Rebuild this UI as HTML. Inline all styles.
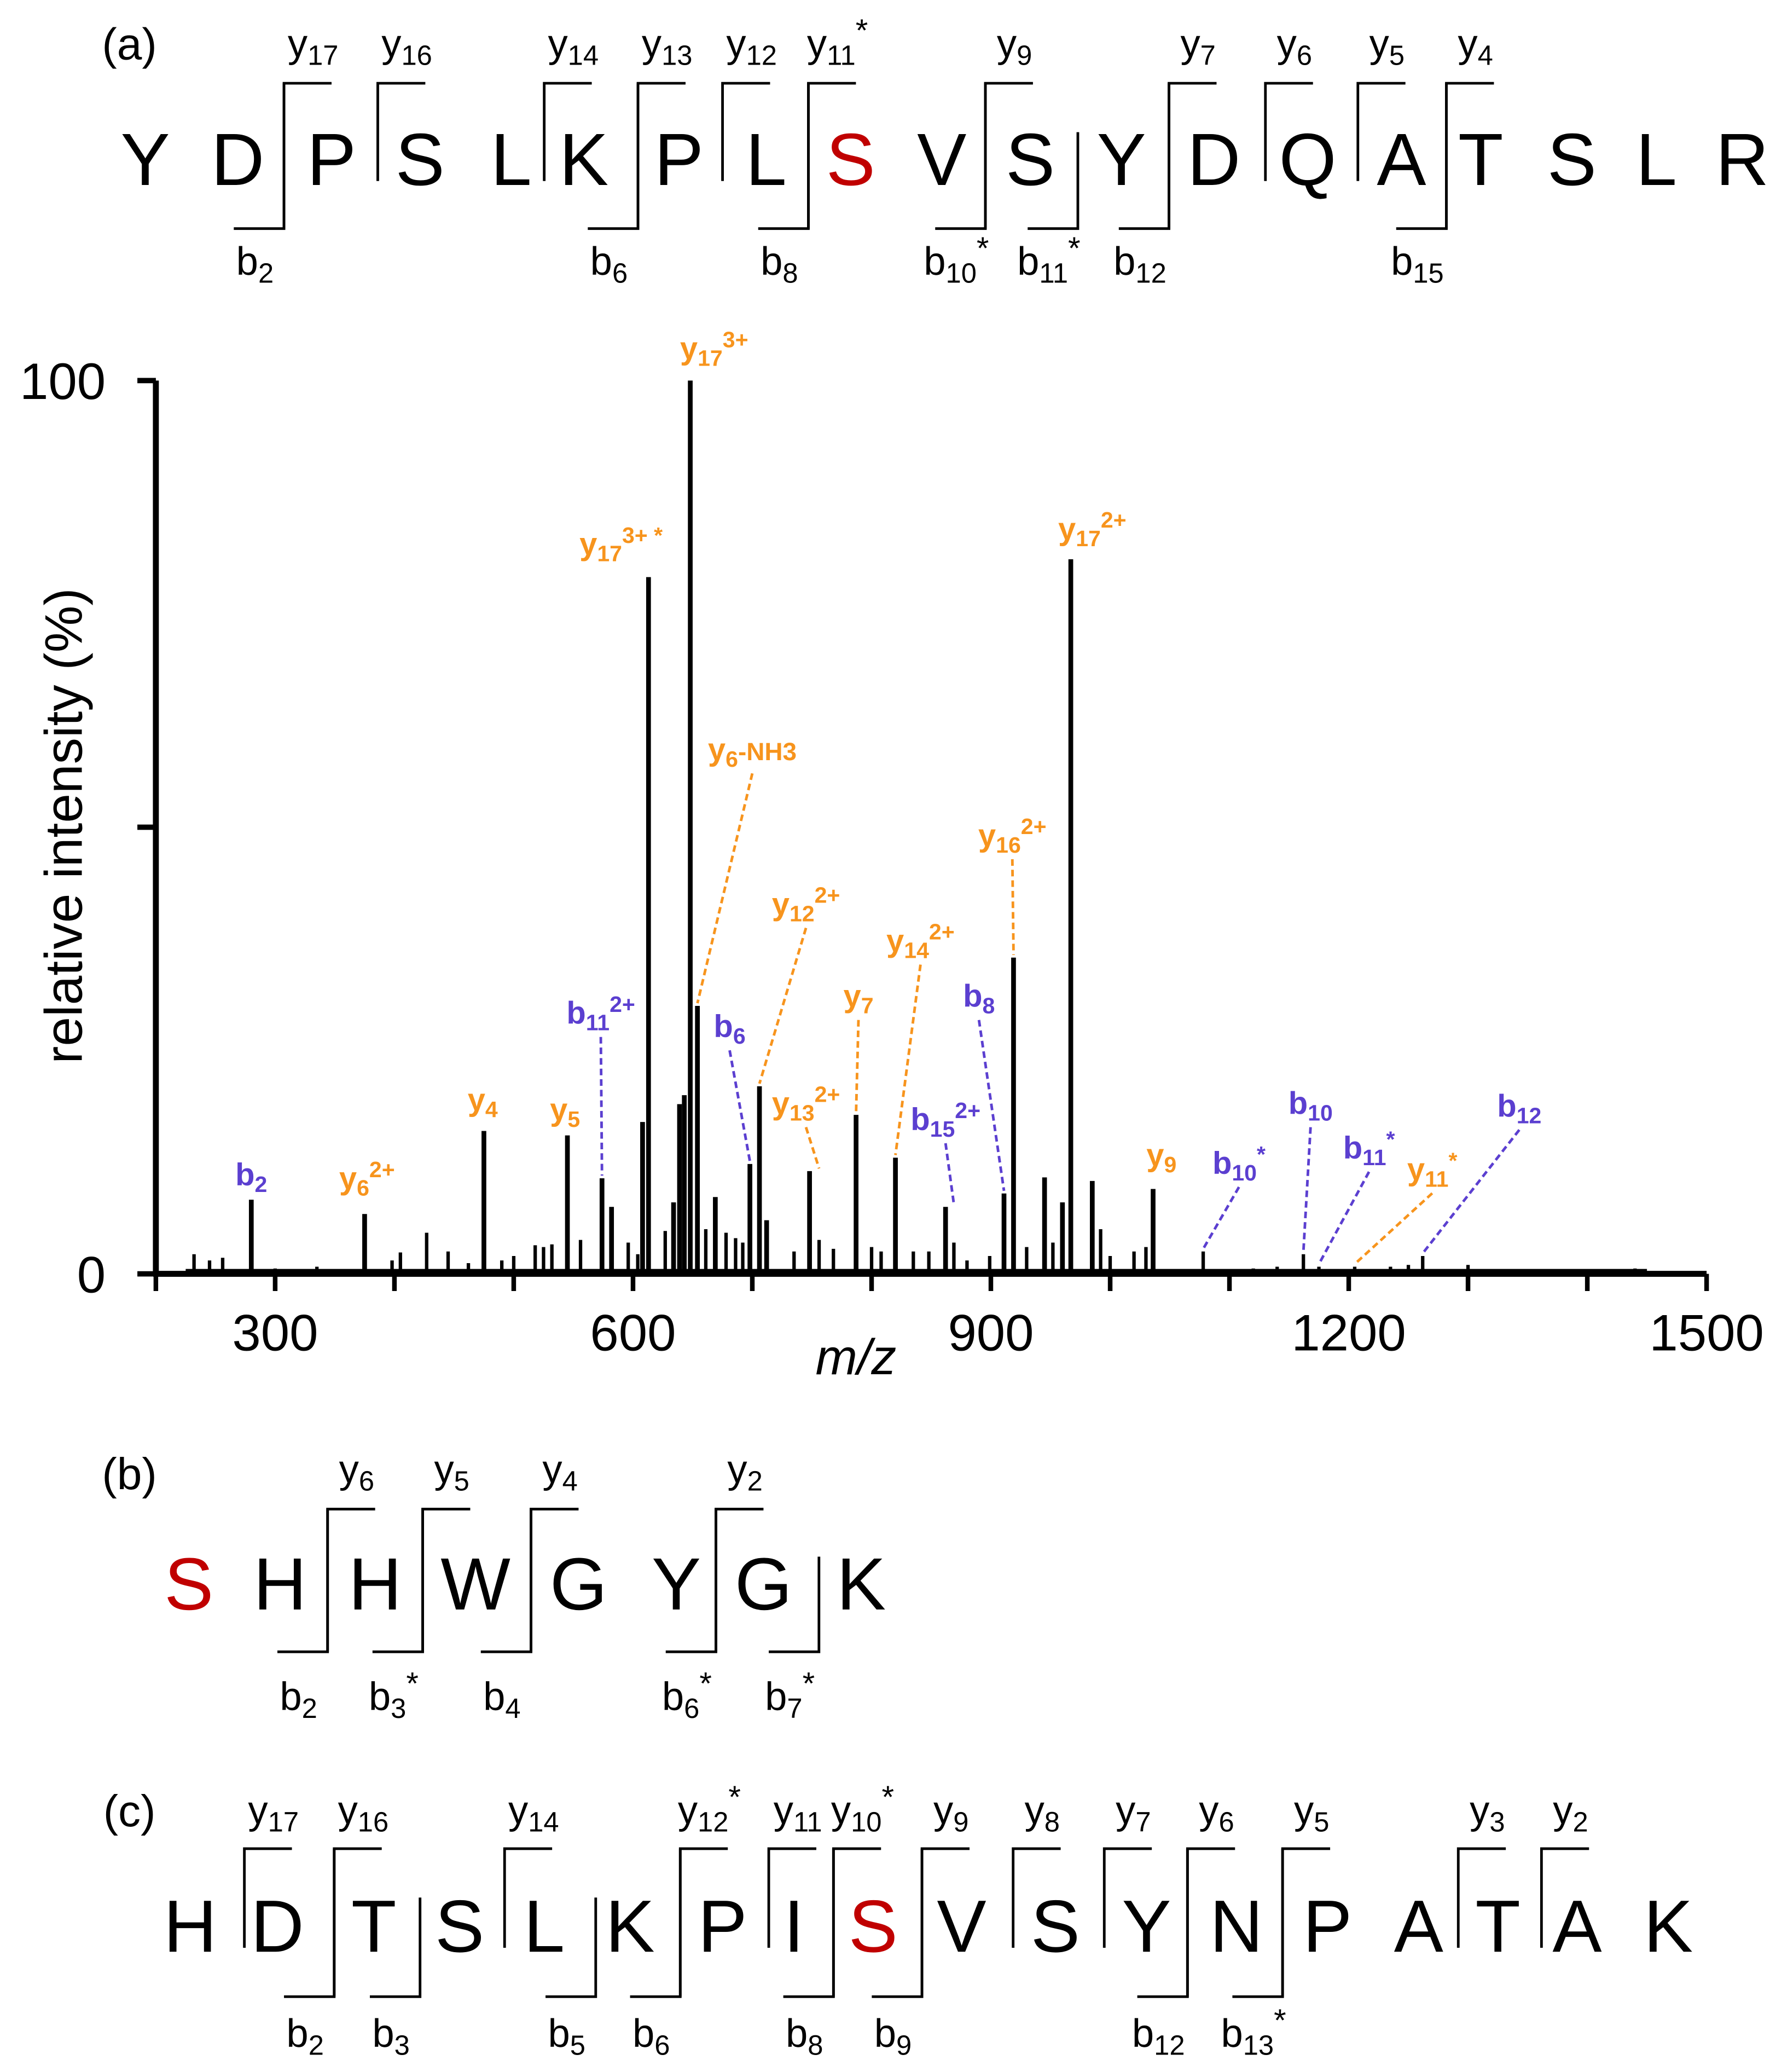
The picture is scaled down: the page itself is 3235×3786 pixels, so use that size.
<!DOCTYPE html>
<html><head><meta charset="utf-8">
<style>
html,body{margin:0;padding:0;background:#fff;}
svg{display:block;}
text{font-family:"Liberation Sans",Arial,sans-serif;}
</style></head>
<body>
<svg id="fig" xmlns="http://www.w3.org/2000/svg" width="3235" height="3786" viewBox="0 0 1340 1568" preserveAspectRatio="none">
<g id="seqs"></g>
<g id="chart"></g>
</svg>
<script>
// ---- spectrum data ----
const peakMz = [232,245,256,280,300,335,375,398,405,427,445,462,475,490,500,518,525,532,545,556,574,582,596,604,608,613,627,634,639,643,648,654,661,669,678,686,692,698,706,712,735,748,756,768,787,800,808,820,835,848,862,869,880,899,911,919,930,945,952,960,967,985,992,1000,1020,1030,1036,1078,1120,1140,1162,1175,1205,1235,1250,1262,1300,1330,1420,1440];
const peakInt = [2.2,1.5,1.8,8.3,0.6,0.8,6.7,1.5,2.4,4.6,2.5,1.2,16,1.5,2,3.2,3,3.3,15.5,3.8,10.7,7.5,3.5,2.2,17,78,4.8,8,19,20,100,30,5,8.6,4.6,4,3.5,12.3,21,6,2.5,11.5,3.8,2.8,17.8,3,2.5,13,2.5,2.5,7.5,3.5,1.5,2,9,35.4,3,10.8,3.5,8,80,10.4,5,2,2.5,3,9.5,2.5,0.6,0.8,2.2,0.8,0.8,0.8,1,2,1,0.5,0.5,0.6];
const annText = ['y','y','y','y','y','y','y','y','b','b','b','y','b','y','y','b','y','y','b','b','b','y','b'];
const annSub = ['17','17','17','6','16','12','14','7','8','6','11','13','15','4','5','2','6','9','10','10','11','11','12'];
const annSup = ['3+','3+ *','2+','','2+','2+','2+','','','','2+','2+','2+','','','','2+','','*','','*','*',''];
const annSuffix = ['','','','-NH3','','','','','','','','','','','','','','','','','','',''];
const annColor = ['o','o','o','o','o','o','o','o','b','b','b','o','b','o','o','b','o','o','b','b','b','o','b'];
const annLabelMz = [668,590,985,700,918,745,841,789,890,681,573,745,862,474,543,280,377,1043,1108,1168,1217,1270,1343];
const annLabelInt = [102.4,80.5,82.2,57.5,47.9,40.2,36.1,29.9,29.9,26.5,28,17.9,16.1,18.3,17.2,9.9,9.5,12.1,11.2,17.9,12.9,10.5,17.6];
const annPeakMz = [648,613,967,654,919,706,820,787,911,698,574,756,869,475,545,280,375,1036,1078,1162,1175,1205,1262];
const annPeakInt = [100,78,80,30,35.4,21,13,17.8,9,12.3,10.7,11.5,7.5,16,15.5,8.3,6.7,9.5,2.5,2.2,0.8,0.8,2];
const annLeader = [0,0,0,1,1,1,1,1,1,1,1,1,1,0,0,0,0,0,1,1,1,1,1];
const xTicks = [200,300,400,500,600,700,800,900,1000,1100,1200,1300,1400,1500];
const xTickLabels = [300,600,900,1200,1500];
const yTicks = [0,50,100];
const yTickLabels = [0,100];

const NS='http://www.w3.org/2000/svg';
const X0=118, X1=1292, Y0=964, Y1=288, MZMIN=200, MZMAX=1500;
const xs = m => X0+(m-MZMIN)*(X1-X0)/(MZMAX-MZMIN);
const ys = v => Y0-(v/100)*(Y0-Y1);
const ORANGE='#f7941d', PURPLE='#5b3fd0';
function mk(tag, attrs, parent){const e=document.createElementNS(NS,tag);for(const k in attrs)e.setAttribute(k,attrs[k]);parent.appendChild(e);return e;}
const chart=document.getElementById('chart');

// peaks
for(let i=0;i<peakMz.length;i++){
  const l=mk('line',{x1:xs(peakMz[i]),x2:xs(peakMz[i]),y1:Y0,y2:ys(peakInt[i]),stroke:'#000','stroke-width':peakInt[i]>5?3.6:2.6},chart);
  
  
}
// noise baseline
const nb=mk('line',{x1:xs(225),x2:xs(1450),y1:Y0-2,y2:Y0-2,stroke:'#000','stroke-width':3.5},chart);



// axes
const ya=mk('line',{x1:X0,x2:X0,y1:Y1,y2:Y0+2,stroke:'#000','stroke-width':4.5},chart);


const xa=mk('line',{x1:X0-2,x2:X1,y1:Y0,y2:Y0,stroke:'#000','stroke-width':4.5},chart);


xTicks.forEach(t=>{
  const l=mk('line',{x1:xs(t),x2:xs(t),y1:Y0,y2:Y0+13,stroke:'#000','stroke-width':3.5},chart);
  
  
});
xTickLabels.forEach(t=>{
  const e=mk('text',{x:xs(t),y:Y0+58,'text-anchor':'middle','font-size':39},chart);
  e.textContent=t;
  
  
});
yTicks.forEach(t=>{
  const l=mk('line',{x1:X0-14,x2:X0,y1:ys(t),y2:ys(t),stroke:'#000','stroke-width':4},chart);
  
  
});
yTickLabels.forEach(t=>{
  const e=mk('text',{x:X0-38,y:ys(t)+14,'text-anchor':'end','font-size':39},chart);
  e.textContent=t;
  
  
});
const yt=mk('text',{x:0,y:0,'text-anchor':'middle','font-size':40,transform:'translate(62,625) rotate(-90)'},chart);
yt.textContent='relative intensity (%)';


const xt=mk('text',{x:648,y:1040,'text-anchor':'middle','font-size':38,'font-style':'italic'},chart);
xt.textContent='m/z';



// annotations
for(let i=0;i<annText.length;i++){
  const col=annColor[i]==='o'?ORANGE:PURPLE;
  const lx=xs(annLabelMz[i]), ly=ys(annLabelInt[i]);
  if(annLeader[i]){
    const l=mk('line',{x1:lx,y1:ly+10,x2:xs(annPeakMz[i]),y2:ys(annPeakInt[i])-2,stroke:col,'stroke-width':2,'stroke-dasharray':'5,3'},chart);
    
    
  }
  const t=mk('text',{x:lx,y:ly,'text-anchor':'middle','font-size':24,'font-weight':'bold',fill:col},chart);
  
  
  const a=mk('tspan',{},t); a.textContent=annText[i];
  const b=mk('tspan',{'font-size':17,dy:5},t); b.textContent=annSub[i];
  if(annSup[i]){const c=mk('tspan',{'font-size':17,dy:-14},t); c.textContent=annSup[i];}
  if(annSuffix[i]){const d=mk('tspan',{'font-size':19,dy:-5},t); d.textContent=annSuffix[i];}
}

// ---- sequence panels ----
const seqs=document.getElementById('seqs');
const panels=[
 {tag:'(a)',tagY:45,top:63,bot:173,base:140,capTop:100,yLab:43,bLab:208,
  letters:[['Y',110],['D',180],['P',251],['S',318],['L',387],['K',442],['P',514],['L',580],['S',644,1],['V',713],['S',780],['Y',849],['D',919],['Q',990],['A',1061],['T',1121],['S',1190],['L',1254],['R',1319]],
  y:[[215,'17'],[286,'16'],[412,'14'],[483,'13'],[547,'12'],[612,'11','*'],[746,'9'],[885,'7'],[958,'6'],[1028,'5'],[1095,'4']],
  b:[[215,'2'],[483,'6'],[612,'8'],[746,'10','*'],[816,'11','*'],[885,'12'],[1095,'15']]},
 {tag:'(b)',tagY:1127,top:1142,bot:1250,base:1218,capTop:1178,yLab:1122,bLab:1294,
  letters:[['S',143,1],['H',212],['H',284],['W',360],['G',438],['Y',512],['G',578],['K',652]],
  y:[[248,'6'],[320,'5'],[402,'4'],[542,'2']],
  b:[[248,'2'],[320,'3','*'],[402,'4'],[542,'6','*'],[620,'7','*']]},
 {tag:'(c)',tagY:1382,top:1399,bot:1511,base:1477,capTop:1436,yLab:1380,bLab:1549,
  letters:[['H',144],['D',210],['T',283],['S',348],['L',412],['K',477],['P',547],['I',601],['S',661,1],['V',728],['S',799],['Y',868],['N',936],['P',1005],['A',1074],['T',1134],['A',1194],['K',1263]],
  y:[[185,'17'],[253,'16'],[382,'14'],[515,'12','*'],[582,'11'],[631,'10','*'],[698,'9'],[767,'8'],[836,'7'],[899,'6'],[971,'5'],[1104,'3'],[1167,'2']],
  b:[[253,'2'],[318,'3'],[451,'5'],[515,'6'],[631,'8'],[698,'9'],[899,'12'],[971,'13','*']]}
];
panels.forEach(p=>{
  const g=mk('g',{},seqs);
  
  
  const tg=mk('text',{x:98,y:p.tagY,'text-anchor':'middle','font-size':34},g);
  tg.textContent=p.tag;
  
  
  p.letters.forEach(L=>{
    const t=mk('text',{x:L[1],y:p.base,'text-anchor':'middle','font-size':56,fill:L[2]?'#c00000':'#000'},g);
    t.textContent=L[0];
    
    
  });
  const bx=p.b.map(v=>v[0]), yx=p.y.map(v=>v[0]);
  p.y.forEach(Y=>{
    const hasB=bx.includes(Y[0]);
    const v=mk('path',{d:`M${Y[0]+36},${p.top} H${Y[0]} V${hasB?p.bot:p.base-3}`,fill:'none',stroke:'#000','stroke-width':2},g);
    
    
    const t=mk('text',{x:Y[0]+22,y:p.yLab,'text-anchor':'middle','font-size':30},g);
    
    
    const a=mk('tspan',{},t);a.textContent='y';
    const s=mk('tspan',{'font-size':21,dy:6},t);s.textContent=Y[1];
    if(Y[2]){const st=mk('tspan',{'font-size':24,dy:-18},t);st.textContent=Y[2];}
  });
  p.b.forEach(B=>{
    const hasY=yx.includes(B[0]);
    const v=mk('path',{d:`M${B[0]-38},${p.bot} H${B[0]} V${hasY?p.top:p.capTop}`,fill:'none',stroke:'#000','stroke-width':2},g);
    
    
    const t=mk('text',{x:B[0]-22,y:p.bLab,'text-anchor':'middle','font-size':30},g);
    
    
    const a=mk('tspan',{},t);a.textContent='b';
    const s=mk('tspan',{'font-size':21,dy:6},t);s.textContent=B[1];
    if(B[2]){const st=mk('tspan',{'font-size':24,dy:-18},t);st.textContent=B[2];}
  });
});
</script>
</body></html>
